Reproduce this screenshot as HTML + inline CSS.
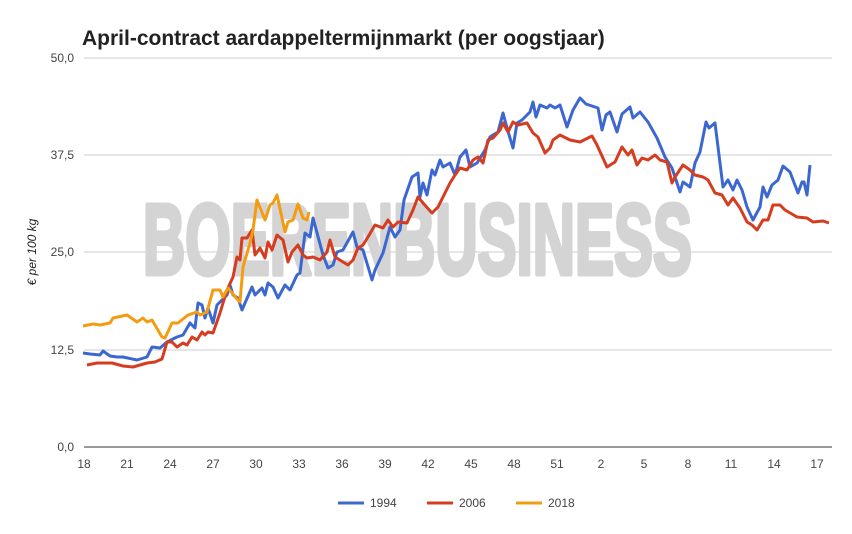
<!DOCTYPE html>
<html><head><meta charset="utf-8"><style>
body{margin:0;background:#fff;}
svg{display:block;font-family:"Liberation Sans",sans-serif;}
</style></head><body>
<svg width="852" height="534" viewBox="0 0 852 534">
<rect width="852" height="534" fill="#fff"/>
<text x="82" y="45" font-size="21" font-weight="bold" fill="#222">April-contract aardappeltermijnmarkt (per oogstjaar)</text>
<g stroke="#cccccc" stroke-width="1">
<line x1="84" y1="58" x2="832" y2="58"/><line x1="84" y1="155" x2="832" y2="155"/>
<line x1="84" y1="252" x2="832" y2="252"/><line x1="84" y1="350" x2="832" y2="350"/>
</g>
<line x1="84" y1="447" x2="832" y2="447" stroke="#333" stroke-width="1"/>
<text x="143" y="274" font-size="100" font-weight="bold" fill="#d4d4d4" stroke="#d4d4d4" stroke-width="5" stroke-linejoin="round" textLength="549" lengthAdjust="spacingAndGlyphs">BOERENBUSINESS</text>
<g font-size="12" fill="#444" text-anchor="end">
<text x="74" y="62">50,0</text><text x="74" y="159">37,5</text><text x="74" y="256">25,0</text><text x="74" y="354">12,5</text><text x="74" y="451">0,0</text>
</g>
<text transform="translate(36,252) rotate(-90)" font-size="12" font-style="italic" fill="#222" text-anchor="middle">€ per 100 kg</text>
<g font-size="12" fill="#444" text-anchor="middle">
<text x="84" y="468">18</text><text x="127" y="468">21</text><text x="170" y="468">24</text><text x="213" y="468">27</text><text x="256" y="468">30</text><text x="299" y="468">33</text><text x="342" y="468">36</text><text x="385" y="468">39</text><text x="428" y="468">42</text><text x="471" y="468">45</text><text x="514" y="468">48</text><text x="557" y="468">51</text><text x="601" y="468">2</text><text x="644" y="468">5</text><text x="688" y="468">8</text><text x="731" y="468">11</text><text x="774" y="468">14</text><text x="817" y="468">17</text>
</g>
<g fill="none" stroke-width="3" stroke-linejoin="round">
<polyline stroke="#3c67d0" points="83,353 90,354 100,355 103,351 110,356 117,357 123,357 137,360 147,357 152,347 160,348 167,342 177,337 183,335 190,323 195,328 198,303 202,305 205,318 208,308 213,323 217,305 227,295 230,285 233,295 238,298 242,310 245,303 252,287 255,295 262,288 265,295 268,283 273,287 278,298 285,285 290,290 297,275 300,273 305,233 310,237 313,218 323,255 328,268 333,265 337,252 343,250 353,232 357,247 363,250 372,280 375,270 383,253 390,227 395,237 400,230 404,200 412,177 418,173 420,197 423,183 427,195 432,170 435,175 440,160 443,167 450,163 455,175 460,157 466,150 470,167 477,163 485,150 490,137 493,135 498,132 503,113 507,128 513,148 517,123 522,120 530,112 533,102 536,117 540,105 547,108 550,105 555,108 560,105 567,127 573,110 580,98 586,104 598,108 602,130 606,115 610,112 617,132 622,114 630,107 633,118 640,112 648,122 657,138 665,157 672,168 680,192 683,182 690,187 695,163 700,152 706,122 709,128 715,123 723,187 728,180 733,190 737,180 742,190 747,207 753,220 760,207 763,187 767,197 772,185 778,180 783,166 790,172 798,193 802,182 804,182 807,195 810,165"/>
<polyline stroke="#d63c1f" points="87,365 97,363 112,363 123,366 133,367 147,363 155,362 162,359 167,342 172,342 177,347 183,343 187,345 192,337 197,340 202,332 205,335 208,332 213,333 220,313 227,290 233,277 237,257 240,260 242,238 247,238 252,230 255,255 260,248 265,258 268,242 272,250 277,235 283,240 288,262 292,252 298,245 303,255 307,258 313,257 320,260 327,252 330,240 335,257 343,262 348,265 353,260 358,248 363,245 368,237 375,225 383,228 388,220 393,227 398,222 407,223 413,210 418,197 423,203 432,213 438,207 445,193 450,183 455,175 460,168 467,170 473,160 478,157 483,163 488,140 493,138 500,130 503,123 508,132 513,122 518,125 527,123 533,133 538,137 545,153 550,148 553,140 560,135 570,140 580,142 592,136 597,145 607,167 615,162 622,147 628,155 632,150 637,165 642,158 648,160 655,155 660,160 667,162 672,183 675,177 683,165 690,170 695,175 703,177 708,180 715,193 722,195 728,205 733,198 740,208 747,222 752,225 757,230 763,220 768,220 773,205 780,205 785,210 797,217 807,218 813,222 823,221 829,223"/>
<polyline stroke="#f39c12" points="83,326 93,324 100,325 110,323 113,318 127,315 137,322 143,318 147,322 152,320 162,337 165,338 172,323 178,323 188,315 197,312 200,315 207,312 213,290 220,290 223,297 228,288 237,299 240,302 243,267 250,243 253,230 257,200 265,220 270,205 273,203 277,195 285,232 288,222 293,220 298,204 303,218 307,220 309,212"/>
</g>
<g font-size="12" fill="#444">
<line x1="338" y1="503" x2="364" y2="503" stroke="#3c67d0" stroke-width="3"/><text x="370" y="507">1994</text>
<line x1="427" y1="503" x2="453" y2="503" stroke="#d63c1f" stroke-width="3"/><text x="459" y="507">2006</text>
<line x1="516" y1="503" x2="542" y2="503" stroke="#f39c12" stroke-width="3"/><text x="548" y="507">2018</text>
</g>
</svg>
</body></html>
